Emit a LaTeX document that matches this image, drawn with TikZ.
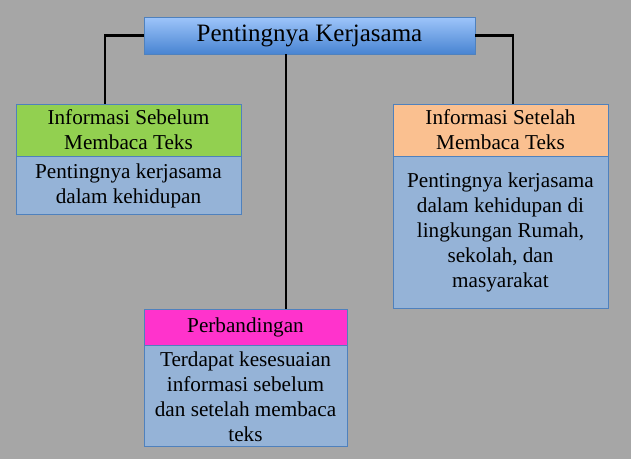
\documentclass[tikz,border=0pt]{standalone}
\usepackage{fontspec}
\setmainfont{Liberation Serif}
\usetikzlibrary{positioning}

\definecolor{latar}{HTML}{A6A6A6}
\definecolor{garis}{HTML}{4F81BD}
\definecolor{hijau}{HTML}{92D050}
\definecolor{jingga}{HTML}{FAC090}
\definecolor{merahmuda}{HTML}{FF33CC}
\definecolor{isibiru}{HTML}{95B3D7}
\definecolor{biruatas}{HTML}{9EC5FA}
\definecolor{biruhawah}{HTML}{4884D2}

\begin{document}
\begin{tikzpicture}[x=1pt,y=-1pt]
  \tikzset{kotak/.style={draw=garis, line width=0.8pt, inner sep=0,
      align=center, font=\fontsize{21.2}{25}\selectfont},
    kepala/.style={kotak},
    isi/.style={kotak, fill=isibiru},
    sambung/.style={draw=black, line width=2.2pt}}
  \useasboundingbox[fill=latar] (0,0) rectangle (631,459);
  \node[kotak, top color=biruatas, bottom color=biruhawah,
    minimum width=331pt, minimum height=37pt,
    font=\fontsize{25}{30}\selectfont] (judul) at (309.5,35.5)
    {Pentingnya Kerjasama};
  % kiri
  \node[kepala, fill=hijau, minimum width=225pt, minimum height=52pt]
    (sebelum) at (128.5,130) {Informasi Sebelum\\Membaca Teks};
  \node[isi, minimum width=225pt, minimum height=58pt, below=0pt of sebelum]
    (sebelumIsi) {Pentingnya kerjasama\\dalam kehidupan};
  % kanan
  \node[kepala, fill=jingga, minimum width=215pt, minimum height=52pt]
    (setelah) at (500.5,130) {Informasi Setelah\\Membaca Teks};
  \node[isi, minimum width=215pt, minimum height=152pt, below=0pt of setelah]
    (setelahIsi) {Pentingnya kerjasama\\dalam kehidupan di\\lingkungan Rumah,\\sekolah, dan\\masyarakat};
  % tengah
  \node[kepala, fill=merahmuda, minimum width=203pt, minimum height=36pt]
    (banding) at (245.5,327) {Perbandingan};
  \node[isi, minimum width=203pt, minimum height=101pt, below=0pt of banding]
    (bandingIsi) {Terdapat kesesuaian\\informasi sebelum\\dan setelah membaca\\teks};
  % garis penghubung
  \draw[sambung] (judul.west) -| ([xshift=-23.5pt]sebelum.north);
  \draw[sambung] (judul.east) -| ([xshift=12.5pt]setelah.north);
  \draw[sambung] ([xshift=-23.5pt]judul.south) -- ([xshift=40.5pt]banding.north);
\end{tikzpicture}
\end{document}
